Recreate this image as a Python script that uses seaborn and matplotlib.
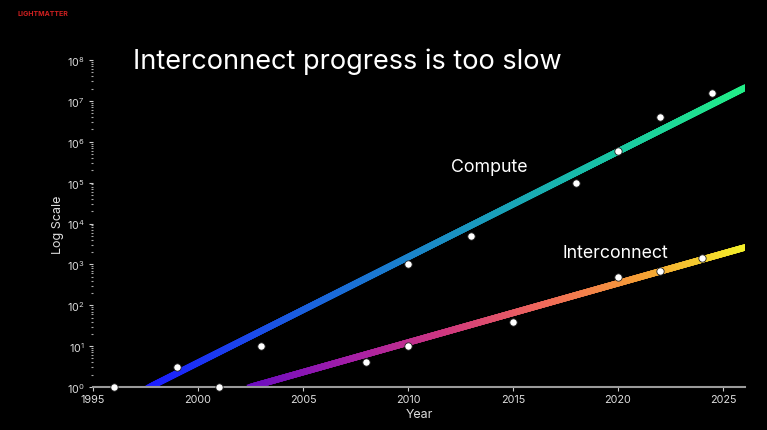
import numpy as np
import pandas as pd
import matplotlib
matplotlib.use("Agg")
import matplotlib.pyplot as plt
import seaborn as sns
from matplotlib.collections import LineCollection
from matplotlib.colors import LinearSegmentedColormap
from matplotlib.ticker import LogFormatterMathtext, FixedLocator, NullFormatter

# ---- data ----
compute_years = [1996, 1999, 2003, 2010, 2013, 2018, 2020, 2022, 2024.5]
compute_values = [1, 3, 10, 1000, 5000, 1e5, 6e5, 4e6, 1.6e7]
inter_years = [2001, 2008, 2010, 2015, 2020, 2022, 2024]
inter_values = [1, 4, 10, 40, 500, 700, 1400]

compute_trend_years = [1997.7, 2026.05]
compute_trend_values = [1, 2.1e7]
inter_trend_years = [2002.5, 2026.05]
inter_trend_values = [1, 2.6e3]

x_ticks = [1995, 2000, 2005, 2010, 2015, 2020, 2025]
y_exponents = [0, 1, 2, 3, 4, 5, 6, 7, 8]

title = "Interconnect progress is too slow"

sns.set_theme(style="dark")
plt.rcParams["font.family"] = ["Inter", "DejaVu Sans"]

fig = plt.figure(figsize=(7.67, 4.31), dpi=100, facecolor="black")
ax = fig.add_axes([93/767, 1-388/431, (745-93)/767, (388-61)/431])
ax.set_facecolor("black")
ax.set_yscale("log")
ax.set_xlim(1995, 2026.05)
ax.set_ylim(1, 1e8)


def gradient_line(ax, xs, ys, cmap, lw):
    lx = np.linspace(xs[0], xs[1], 300)
    ly = 10 ** np.interp(lx, xs, np.log10(ys))
    pts = np.array([lx, ly]).T.reshape(-1, 1, 2)
    segs = np.concatenate([pts[:-1], pts[1:]], axis=1)
    lc = LineCollection(segs, cmap=cmap, linewidths=lw, capstyle="projecting", zorder=2)
    lc.set_array(np.linspace(0, 1, len(segs)))
    ax.add_collection(lc)


cmap_c = LinearSegmentedColormap.from_list("c", ["#1c1cff", "#1a5ee0", "#1a8fc4", "#18c0a8", "#22ee88"])
cmap_i = LinearSegmentedColormap.from_list("i", ["#6a0cc0", "#a41ea8", "#d0387f", "#f06a5a", "#f5a035", "#f4ee2a"])

gradient_line(ax, compute_trend_years, compute_trend_values, cmap_c, 4.6)
gradient_line(ax, inter_trend_years, inter_trend_values, cmap_i, 4.6)

df = pd.DataFrame({
    "year": compute_years + inter_years,
    "value": compute_values + inter_values,
})
sns.scatterplot(data=df, x="year", y="value", ax=ax, color="white", s=28,
                edgecolor="#222222", linewidth=0.6, zorder=5, clip_on=False)

# axes styling
for s in ["top", "right", "left"]:
    ax.spines[s].set_visible(False)
ax.spines["bottom"].set_color("#9a9a9a")
ax.spines["bottom"].set_linewidth(1.5)
ax.grid(False)

ax.xaxis.set_major_locator(FixedLocator(x_ticks))
ax.set_xticklabels([str(t) for t in x_ticks])
major_y = [10.0 ** e for e in y_exponents]
minor_y = [m * 10.0 ** e for e in y_exponents[:-1] for m in range(2, 10)]
ax.yaxis.set_major_locator(FixedLocator(major_y))
ax.yaxis.set_minor_locator(FixedLocator(minor_y))
ax.yaxis.set_major_formatter(LogFormatterMathtext())
ax.yaxis.set_minor_formatter(NullFormatter())
ax.tick_params(axis="x", colors="#cccccc", labelsize=7.8, length=3, width=0.8, pad=2, labelcolor="#dddddd", bottom=True)
ax.tick_params(axis="y", which="major", colors="#cccccc", labelsize=7.8, length=3, width=0.8, pad=3, labelcolor="#dddddd", left=True)
ax.tick_params(axis="y", which="minor", colors="#aaaaaa", length=1.5, width=0.8, left=True)

ax.set_xlabel("Year", color="#dddddd", fontsize=9, labelpad=3)
ax.set_ylabel("Log Scale", color="#dddddd", fontsize=9, labelpad=2)

fig.text(133/767, 1-62/431, title, color="white", fontsize=19.5, va="center", ha="left")
fig.text(18/767, 1-14/431, "LIGHTMATTER", color="#d02020", fontsize=5, va="center", ha="left", fontweight="bold")

fig.text(451/767, 1-167/431, "Compute", color="white", fontsize=12.8, va="center", ha="left")
fig.text(563/767, 1-254/431, "Interconnect", color="white", fontsize=12.8, va="center", ha="left")

fig.savefig("out.png", dpi=100, facecolor="black")
